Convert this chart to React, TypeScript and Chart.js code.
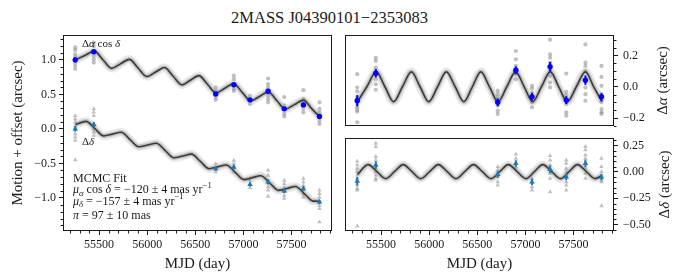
import React, { useEffect, useRef } from "react";
import { Chart, registerables } from "chart.js";
Chart.register(...registerables);

const FONT = "'Liberation Serif', 'Times New Roman', serif";
const INK = "#1a1a1a";
const GRAY = "rgba(128,128,128,0.5)";
const BLUE_RA = "#0000ff";
const BLUE_DEC = "#1f77b4";

// ---------------- data ----------------
const epochs = [55252, 55445, 56712, 56900, 57068, 57256, 57424, 57623, 57790];

// epoch means (right panels: parallax-only residual motion)
const raMeanRight = [-0.089, 0.086, -0.099, 0.105, -0.063, 0.128, -0.085, 0.042, -0.063];
const raErr = [0.036, 0.027, 0.025, 0.025, 0.025, 0.03, 0.025, 0.03, 0.025];
const decMeanRight = [-0.089, 0.064, -0.025, 0.08, -0.095, 0.023, -0.048, 0.08, -0.048];
const decErr = [0.04, 0.035, 0.03, 0.03, 0.03, 0.035, 0.03, 0.035, 0.03];

// epoch means (left panel: motion + offset)
const raMeanLeft = [1.0, 1.117, 0.506, 0.64, 0.42, 0.545, 0.29, 0.347, 0.18];
const decMeanLeft = [0.0, 0.062, -0.578, -0.554, -0.805, -0.77, -0.9, -0.867, -1.06];

// individual frames (gray)
const raGrayRight = [
  [0.08, -0.005, -0.03, -0.068, -0.11, -0.13, -0.146, -0.158, -0.226],
  [0.185, 0.165, 0.122, 0.048, 0.016, -0.019],
  [-0.025, -0.047, -0.068, -0.12, -0.152, -0.173],
  [0.228, 0.175, 0.133, 0.08, 0.048],
  [0.006, -0.011, -0.036, -0.099, -0.131],
  [0.3, 0.206, 0.185, 0.154, 0.101, 0.07, 0.027, -0.004],
  [0.084, -0.032, -0.053, -0.11, -0.163, -0.184],
  [0.27, 0.154, 0.133, 0.1, -0.004, -0.047, -0.089],
  [0.133, 0.063, 0.006, -0.099, -0.142, -0.163, -0.173],
];
const decGrayRight = [
  [0.1, 0.064, 0.032, 0, -0.032, -0.063, -0.127, -0.158, -0.174, -0.514],
  [0.27, 0.238, 0.143, 0.111, 0.032, 0, -0.032, -0.063, -0.079],
  [0.048, 0.016, -0.048, -0.095, -0.127],
  [0.166, 0.127, 0.048, 0.032],
  [-0.063, -0.143, -0.174],
  [0.152, 0.111, 0.064, -0.016, -0.063, -0.19],
  [0.111, 0.08, 0.032, 0, -0.095, -0.127, -0.174],
  [0.238, 0.206, 0.159, 0.127, 0.032, -0.016, -0.063],
  [0.127, 0.048, 0, -0.079, -0.095, -0.323],
];
const raGrayLeft = [
  [1.18, 1.14, 1.08, 1.036, 0.964, 0.915, 0.867],
  [1.25, 1.2, 1.06, 1.01, 0.96],
  [0.6, 0.55, 0.46, 0.42],
  [0.77, 0.72, 0.58, 0.55],
  [0.48, 0.36],
  [0.73, 0.65, 0.6, 0.48, 0.43, 0.385],
  [0.46, 0.34, 0.22, 0.18],
  [0.56, 0.43, 0.385, 0.29, 0.24],
  [0.385, 0.29, 0.24, 0.12, 0.072],
];
const decGrayLeft = [
  [0.19, 0.145, 0.097, 0.048, -0.072, -0.12, -0.169, -0.45],
  [0.29, 0.24, 0.19, 0, -0.048, -0.097],
  [-0.506, -0.626],
  [-0.458, -0.506, -0.626],
  [-0.747, -0.853],
  [-0.6, -0.675, -0.843, -0.89, -0.978],
  [-0.747, -0.795, -0.853, -0.964, -1.01],
  [-0.72, -0.77, -0.82, -0.94, -0.99],
  [-0.89, -0.94, -0.99, -1.11, -1.156, -1.35],
];

// fitted model curves, read at the extrema / crossings
const raCurveT = [55255, 55352, 55450, 55540, 55630, 55722, 55815, 55905, 55995, 56087, 56178, 56270, 56360, 56448, 56537, 56626, 56715, 56806, 56898, 56987, 57075, 57166, 57258, 57346, 57435, 57529, 57623, 57709, 57795];
const raCurveRight = [-0.095, 0, 0.095, 0, -0.095, 0, 0.095, 0, -0.095, 0, 0.095, 0, -0.095, 0, 0.095, 0, -0.095, 0, 0.095, 0, -0.095, 0, 0.095, 0, -0.095, 0, 0.095, 0, -0.095];
const raCurveLeft = [1.0, 1.063, 1.126, 1.002, 0.877, 0.942, 1.007, 0.882, 0.758, 0.823, 0.888, 0.763, 0.639, 0.705, 0.771, 0.647, 0.523, 0.588, 0.653, 0.529, 0.405, 0.47, 0.535, 0.411, 0.287, 0.351, 0.416, 0.293, 0.169];

const decCurveT = [55255, 55365, 55457, 55548, 55639, 55730, 55821, 55912, 56004, 56095, 56187, 56278, 56369, 56460, 56552, 56643, 56733, 56822, 56914, 57005, 57093, 57180, 57273, 57365, 57453, 57540, 57633, 57725, 57795];
const decCurveRight = [-0.025, 0.068, 0.002, -0.064, 0.002, 0.068, 0.002, -0.064, 0.002, 0.068, 0.002, -0.064, 0.002, 0.068, 0.002, -0.064, 0.002, 0.068, 0.002, -0.064, 0.002, 0.068, 0.002, -0.064, 0.002, 0.068, 0.002, -0.064, -0.035];
const decCurveLeft = [0.064, 0.109, 0.003, -0.102, -0.076, -0.049, -0.155, -0.26, -0.234, -0.208, -0.314, -0.419, -0.393, -0.366, -0.472, -0.577, -0.551, -0.523, -0.629, -0.735, -0.707, -0.679, -0.785, -0.891, -0.863, -0.835, -0.941, -1.047, -1.048];

// axes
const xMin = 55125;
const xMax = 57920;
const xMajor = [55500, 56000, 56500, 57000, 57500];
const yLeftMajor = [-1.0, -0.5, 0.0, 0.5, 1.0];
const yTRMajor = [-0.2, 0.0, 0.2];
const yBRMajor = [-0.5, -0.25, 0.0, 0.25];

// ---------------- helpers ----------------
type Seg = { t: string; it?: boolean; sub?: boolean; sup?: boolean };

function minorValues(min: number, max: number, step: number, majors: number[]) {
  const out: number[] = [];
  const n0 = Math.ceil(min / step - 1e-9);
  const n1 = Math.floor(max / step + 1e-9);
  for (let i = n0; i <= n1; i++) {
    const v = i * step;
    if (!majors.some((m) => Math.abs(m - v) < step * 0.01)) out.push(v);
  }
  return out;
}

const pts = (xs: number[], ys: number[]) => xs.map((x, i) => ({ x, y: ys[i] }));
const grayPts = (groups: number[][]) => groups.flatMap((g, i) => g.map((y) => ({ x: epochs[i], y })));

function drawRich(ctx: CanvasRenderingContext2D, segs: Seg[], x: number, y: number, size: number, align: "left" | "center" = "left") {
  const fontFor = (s: Seg) => `${s.it ? "italic " : ""}${s.sub || s.sup ? size * 0.72 : size}px ${FONT}`;
  let w = 0;
  for (const s of segs) {
    ctx.font = fontFor(s);
    w += ctx.measureText(s.t).width;
  }
  let cx = align === "center" ? x - w / 2 : x;
  ctx.textAlign = "left";
  ctx.textBaseline = "alphabetic";
  ctx.fillStyle = INK;
  for (const s of segs) {
    ctx.font = fontFor(s);
    const dy = s.sub ? size * 0.22 : s.sup ? -size * 0.42 : 0;
    ctx.fillText(s.t, cx, y + dy);
    cx += ctx.measureText(s.t).width;
  }
}

function drawRotated(ctx: CanvasRenderingContext2D, segs: Seg[], cx: number, cy: number, size: number) {
  ctx.save();
  ctx.translate(cx, cy);
  ctx.rotate(-Math.PI / 2);
  drawRich(ctx, segs, 0, size * 0.33, size, "center");
  ctx.restore();
}

type Deco = {
  xMinor?: number[];
  yMinor: number[];
  ySide: "left" | "right";
  errSets: { ds: number; errs: number[]; color: string }[];
  draw: (ctx: CanvasRenderingContext2D, a: any) => void;
};

function decoPlugin(d: Deco) {
  return {
    id: "deco",
    afterDatasetsDraw(chart: any) {
      const ctx = chart.ctx as CanvasRenderingContext2D;
      const xs = chart.scales.x;
      const ys = chart.scales.y;
      const a = chart.chartArea;
      ctx.save();
      ctx.beginPath();
      ctx.rect(a.left, a.top, a.right - a.left, a.bottom - a.top);
      ctx.clip();
      for (const e of d.errSets) {
        const data = chart.data.datasets[e.ds].data as { x: number; y: number }[];
        ctx.strokeStyle = e.color;
        ctx.lineWidth = 2;
        data.forEach((p, i) => {
          const px = xs.getPixelForValue(p.x);
          ctx.beginPath();
          ctx.moveTo(px, ys.getPixelForValue(p.y - e.errs[i]));
          ctx.lineTo(px, ys.getPixelForValue(p.y + e.errs[i]));
          ctx.stroke();
        });
      }
      ctx.restore();
    },
    afterDraw(chart: any) {
      const ctx = chart.ctx as CanvasRenderingContext2D;
      const a = chart.chartArea;
      const xs = chart.scales.x;
      const ys = chart.scales.y;
      ctx.save();
      ctx.strokeStyle = INK;
      ctx.lineWidth = 1;
      ctx.strokeRect(a.left + 0.5, a.top + 0.5, a.right - a.left - 1, a.bottom - a.top - 1);
      const ml = 2.5;
      ctx.beginPath();
      if (d.xMinor) {
        for (const v of d.xMinor) {
          const px = Math.round(xs.getPixelForValue(v)) + 0.5;
          ctx.moveTo(px, a.bottom);
          ctx.lineTo(px, a.bottom + ml);
        }
      }
      for (const v of d.yMinor) {
        const py = Math.round(ys.getPixelForValue(v)) + 0.5;
        if (d.ySide === "left") {
          ctx.moveTo(a.left, py);
          ctx.lineTo(a.left - ml, py);
        } else {
          ctx.moveTo(a.right, py);
          ctx.lineTo(a.right + ml, py);
        }
      }
      ctx.stroke();
      d.draw(ctx, a);
      ctx.restore();
    },
  };
}

const fmt = (dec: number) => (v: number) => (v < 0 ? "\u2212" : "") + Math.abs(v).toFixed(dec);

function xScale(display: boolean) {
  return {
    type: "linear",
    min: xMin,
    max: xMax,
    display,
    afterBuildTicks: (s: any) => {
      s.ticks = xMajor.map((v) => ({ value: v }));
    },
    afterFit: (s: any) => {
      s.height = display ? 49 : 0;
      s.paddingLeft = 0;
      s.paddingRight = 0;
    },
    grid: { drawOnChartArea: false, drawTicks: true, tickLength: 4, color: INK, lineWidth: 1 },
    border: { display: false },
    ticks: { font: { family: FONT, size: 12 }, color: INK, padding: 3, maxRotation: 0, autoSkip: false, callback: (v: number) => String(v) },
  };
}

function yScale(min: number, max: number, majors: number[], side: "left" | "right", width: number, dec: number) {
  return {
    type: "linear",
    position: side,
    min,
    max,
    afterBuildTicks: (s: any) => {
      s.ticks = majors.map((v) => ({ value: v }));
    },
    afterFit: (s: any) => {
      s.width = width;
      s.paddingTop = 0;
      s.paddingBottom = 0;
    },
    grid: { drawOnChartArea: false, drawTicks: true, tickLength: 4, color: INK, lineWidth: 1 },
    border: { display: false },
    ticks: { font: { family: FONT, size: 12 }, color: INK, padding: side === "left" ? 3 : 5, autoSkip: false, callback: fmt(dec) },
  };
}

function curveSets(t: number[], v: number[]) {
  const data = pts(t, v);
  const base = { showLine: true, pointRadius: 0, cubicInterpolationMode: "monotone", fill: false };
  return [
    { ...base, data, borderColor: "#3a3a3a", borderWidth: 1.6, order: 1 },
    { ...base, data, borderColor: "rgba(120,120,120,0.35)", borderWidth: 4.5, order: 2 },
    { ...base, data, borderColor: "rgba(160,160,160,0.22)", borderWidth: 8.5, order: 3 },
  ];
}

function grayRA(groups: number[][]) {
  return { data: grayPts(groups), showLine: false, pointStyle: "circle", pointRadius: 2.1, pointBackgroundColor: GRAY, pointBorderWidth: 0, order: 5 };
}
function grayDec(groups: number[][]) {
  return { data: grayPts(groups), showLine: false, pointStyle: "triangle", pointRadius: 2.6, pointBackgroundColor: GRAY, pointBorderWidth: 0, order: 5 };
}
function blueRA(vals: number[]) {
  return { data: pts(epochs, vals), showLine: false, pointStyle: "circle", pointRadius: 2.7, pointBackgroundColor: BLUE_RA, pointBorderWidth: 0, order: 0 };
}
function blueDec(vals: number[]) {
  return { data: pts(epochs, vals), showLine: false, pointStyle: "triangle", pointRadius: 3.2, pointBackgroundColor: BLUE_DEC, pointBorderWidth: 0, order: 0 };
}

const baseOpts = {
  responsive: false,
  maintainAspectRatio: false,
  animation: false,
  devicePixelRatio: 1,
  plugins: { legend: { display: false }, tooltip: { enabled: false } },
  events: [],
};

function makeLeft(canvas: HTMLCanvasElement) {
  const datasets = [blueRA(raMeanLeft), blueDec(decMeanLeft), ...curveSets(raCurveT, raCurveLeft), ...curveSets(decCurveT, decCurveLeft), grayRA(raGrayLeft), grayDec(decGrayLeft)];
  return new Chart(canvas, {
    type: "line",
    data: { datasets } as any,
    options: {
      ...baseOpts,
      layout: { padding: { left: 0, top: 35, right: 10, bottom: 0 } },
      scales: { x: xScale(true), y: yScale(-1.48, 1.36, yLeftMajor, "left", 63, 1) },
    } as any,
    plugins: [
      decoPlugin({
        xMinor: minorValues(xMin, xMax, 100, xMajor),
        yMinor: minorValues(-1.48, 1.36, 0.1, yLeftMajor),
        ySide: "left",
        errSets: [
          { ds: 0, errs: raErr, color: BLUE_RA },
          { ds: 1, errs: decErr, color: BLUE_DEC },
        ],
        draw: (ctx, a) => {
          drawRich(ctx, [{ t: "\u0394" }, { t: "\u03b1", it: true }, { t: " cos " }, { t: "\u03b4", it: true }], 82, 46.5, 11);
          drawRich(ctx, [{ t: "\u0394" }, { t: "\u03b4", it: true }], 82, 145, 11);
          const x0 = 73;
          drawRich(ctx, [{ t: "MCMC Fit" }], x0, 181.5, 12);
          drawRich(ctx, [{ t: "\u03bc", it: true }, { t: "\u03b1", it: true, sub: true }, { t: " cos " }, { t: "\u03b4", it: true }, { t: " = \u2212120 \u00b1 4 mas yr" }, { t: "\u22121", sup: true }], x0, 193, 12);
          drawRich(ctx, [{ t: "\u03bc", it: true }, { t: "\u03b4", it: true, sub: true }, { t: " = \u2212157 \u00b1 4 mas yr" }, { t: "\u22121", sup: true }], x0, 204.5, 12);
          drawRich(ctx, [{ t: "\u03c0", it: true }, { t: " = 97 \u00b1 10 mas" }], x0, 219, 12);
          drawRotated(ctx, [{ t: "Motion + offset (arcsec)" }], 17, (a.top + a.bottom) / 2, 15);
          drawRich(ctx, [{ t: "MJD (day)" }], (a.left + a.right) / 2, 268, 15, "center");
        },
      }),
    ],
  });
}

function makeTopRight(canvas: HTMLCanvasElement) {
  const datasets = [blueRA(raMeanRight), ...curveSets(raCurveT, raCurveRight), grayRA(raGrayRight)];
  return new Chart(canvas, {
    type: "line",
    data: { datasets } as any,
    options: {
      ...baseOpts,
      layout: { padding: { left: 5, top: 35, right: 0, bottom: 3 } },
      scales: { x: xScale(false), y: yScale(-0.25, 0.33, yTRMajor, "right", 69, 1) },
    } as any,
    plugins: [
      decoPlugin({
        yMinor: minorValues(-0.25, 0.33, 0.05, yTRMajor),
        ySide: "right",
        errSets: [{ ds: 0, errs: raErr, color: BLUE_RA }],
        draw: (ctx, a) => {
          drawRotated(ctx, [{ t: "\u0394" }, { t: "\u03b1", it: true }, { t: " (arcsec)" }], 322, (a.top + a.bottom) / 2, 15);
        },
      }),
    ],
  });
}

function makeBottomRight(canvas: HTMLCanvasElement) {
  const datasets = [blueDec(decMeanRight), ...curveSets(decCurveT, decCurveRight), grayDec(decGrayRight)];
  return new Chart(canvas, {
    type: "line",
    data: { datasets } as any,
    options: {
      ...baseOpts,
      layout: { padding: { left: 5, top: 8, right: 0, bottom: 0 } },
      scales: { x: xScale(true), y: yScale(-0.56, 0.32, yBRMajor, "right", 69, 2) },
    } as any,
    plugins: [
      decoPlugin({
        xMinor: minorValues(xMin, xMax, 100, xMajor),
        yMinor: minorValues(-0.56, 0.32, 0.05, yBRMajor),
        ySide: "right",
        errSets: [{ ds: 0, errs: decErr, color: BLUE_DEC }],
        draw: (ctx, a) => {
          drawRotated(ctx, [{ t: "\u0394" }, { t: "\u03b4", it: true }, { t: " (arcsec)" }], 324, (a.top + a.bottom) / 2, 15);
          drawRich(ctx, [{ t: "MJD (day)" }], (a.left + a.right) / 2, 138, 15, "center");
        },
      }),
    ],
  });
}

export default function App() {
  const leftRef = useRef<HTMLCanvasElement>(null);
  const trRef = useRef<HTMLCanvasElement>(null);
  const brRef = useRef<HTMLCanvasElement>(null);

  useEffect(() => {
    const charts = [makeLeft(leftRef.current!), makeTopRight(trRef.current!), makeBottomRight(brRef.current!)];
    return () => charts.forEach((c) => c.destroy());
  }, []);

  return (
    <div style={{ position: "fixed", left: 0, top: 0, width: 683, height: 280, background: "#fff", overflow: "hidden" }}>
      <div
        style={{
          position: "absolute",
          left: 0,
          top: 10,
          width: 659,
          textAlign: "center",
          fontFamily: FONT,
          fontSize: 16.5,
          lineHeight: "15px",
          color: INK,
          whiteSpace: "nowrap",
        }}
      >
        2MASS J04390101{"\u2212"}2353083
      </div>
      <canvas ref={leftRef} width={342} height={280} style={{ position: "absolute", left: 0, top: 0, display: "block" }} />
      <canvas ref={trRef} width={343} height={130} style={{ position: "absolute", left: 340, top: 0, display: "block" }} />
      <canvas ref={brRef} width={343} height={150} style={{ position: "absolute", left: 340, top: 130, display: "block" }} />
    </div>
  );
}
